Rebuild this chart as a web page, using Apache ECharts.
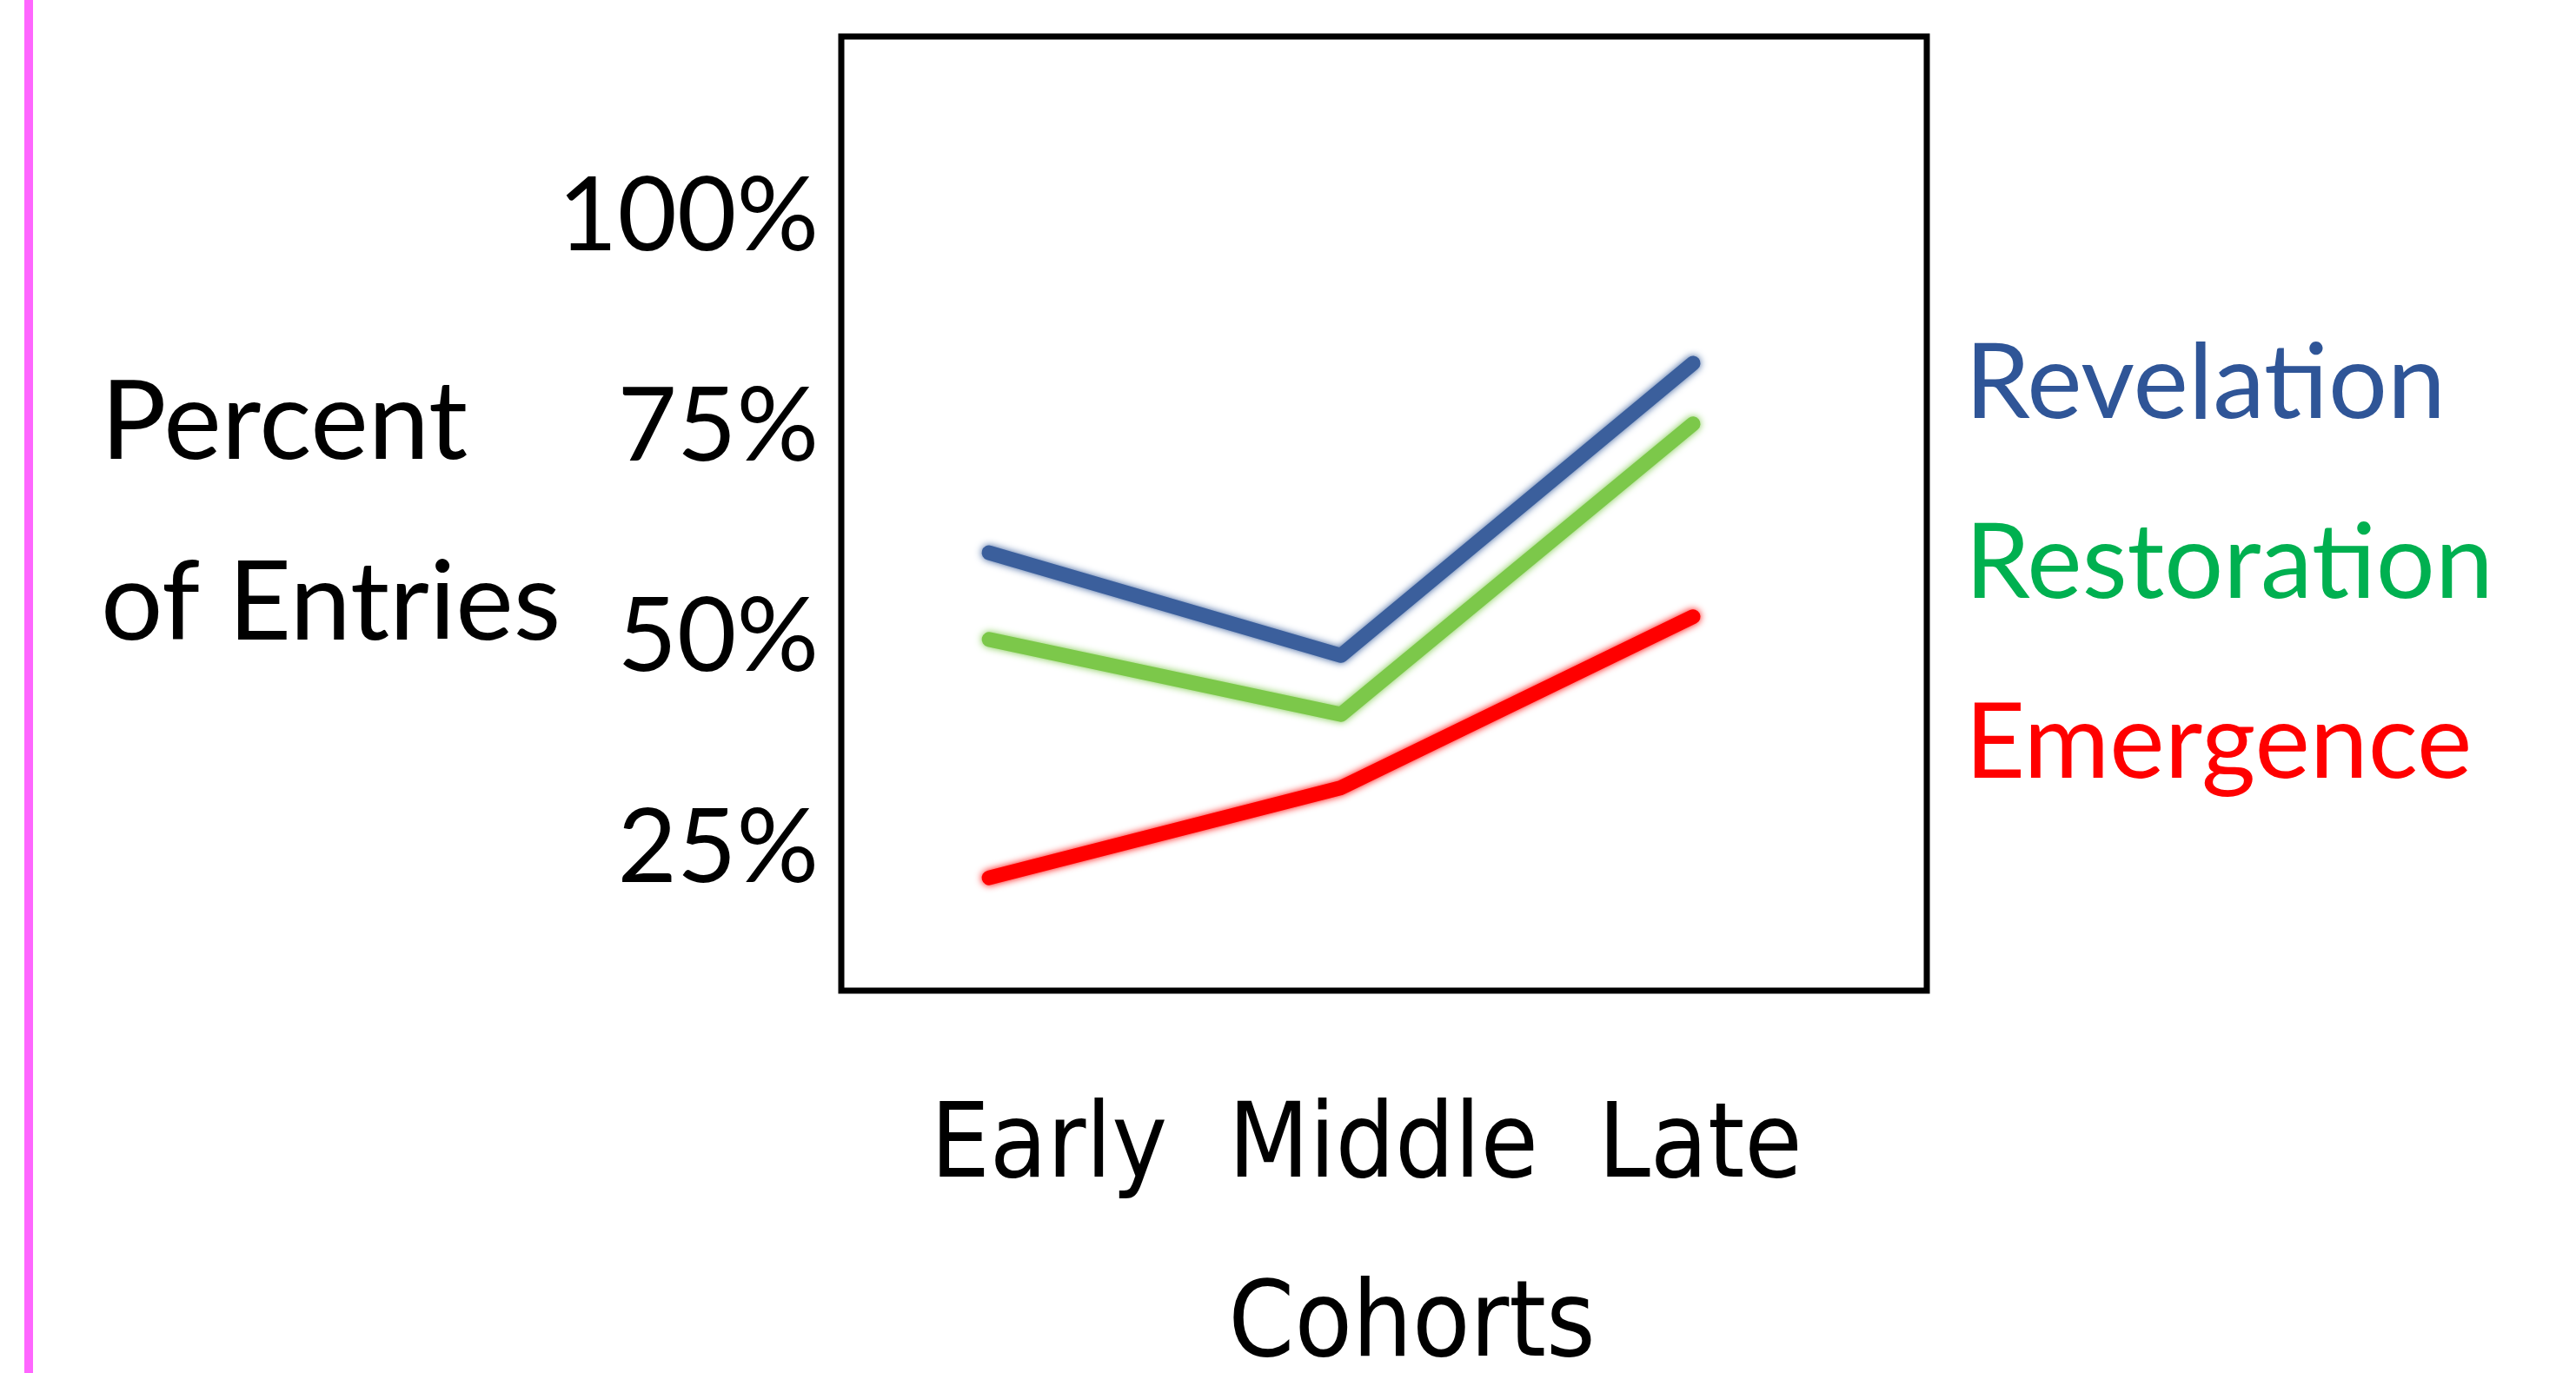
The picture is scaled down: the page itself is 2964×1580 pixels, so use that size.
<!DOCTYPE html>
<html><head><meta charset="utf-8">
<script src="https://cdn.jsdelivr.net/npm/echarts@6/dist/echarts.min.js"></script>
<style>html,body{margin:0;padding:0;background:#fff}#c{width:2964px;height:1580px}</style>
</head><body><div id="c"></div><script>
// ---- data ----
const categories = ['Early', 'Middle', 'Late'];
const seriesNames = ['Revelation', 'Restoration', 'Emergence'];
const revelation = [59.1, 46.9, 81.6];
const restoration = [48.8, 39.9, 74.4];
const emergence = [20.5, 31.2, 51.5];
const yTicks = [25, 50, 75, 100];
const xLabelPositions = [0.17, 1.12, 2.02];
const xAxisTitle = 'Cohorts';
const yAxisTitle = 'Percent\nof Entries';

// ---- styles ----
const FONT = "Lato, 'Open Sans', sans-serif";
const FONT_X = "'DejaVu Sans Condensed', 'DejaVu Sans', sans-serif";
const lineColors = ['#3B5F9C', '#7CC84A', '#FF0000'];
const textColors = ['#2F5597', '#00B050', '#FF0000'];
const values = [revelation, restoration, emergence];

const chart = echarts.init(document.getElementById('c'), null, {renderer: 'canvas'});
chart.setOption({
  backgroundColor: '#ffffff',
  animation: false,
  graphic: [{type: 'rect', shape: {x: 28, y: 0, width: 10, height: 1580}, style: {fill: '#FF66FF'}, silent: true}],
  grid: {left: 968, top: 42, width: 1249, height: 1098, show: true, borderColor: '#000', borderWidth: 7,
         backgroundColor: '#fff', containLabel: false, outerBoundsMode: 'none'},
  legend: {
    orient: 'vertical', left: 2251, top: 377, icon: 'none', itemWidth: 0, itemHeight: 120, itemGap: 87,
    selectedMode: false,
    textStyle: {fontSize: 120, fontFamily: FONT, lineHeight: 120},
    data: seriesNames.map((n, i) => ({name: n, textStyle: {color: textColors[i]}}))
  },
  xAxis: {
    type: 'value', min: -0.42, max: 2.664,
    axisLine: {show: false}, axisTick: {show: false}, splitLine: {show: false},
    axisLabel: {
      customValues: xLabelPositions, margin: 123, fontSize: 120, lineHeight: 120, fontFamily: FONT_X, color: '#000',
      formatter: (v) => {
        let best = 0;
        xLabelPositions.forEach((p, i) => { if (Math.abs(p - v) < Math.abs(xLabelPositions[best] - v)) best = i; });
        return categories[best];
      }
    },
    name: xAxisTitle, nameLocation: 'middle', nameGap: 328, nameMoveOverlap: false,
    nameTextStyle: {fontSize: 121, lineHeight: 121, fontFamily: FONT_X, color: '#000', padding: [0, 0, 0, 64]}
  },
  yAxis: {
    type: 'value', min: 7.1, max: 120.4,
    axisLine: {show: false}, axisTick: {show: false}, splitLine: {show: false},
    axisLabel: {customValues: yTicks, formatter: '{value}%', margin: 26, fontSize: 118, fontFamily: FONT, color: '#000',
                verticalAlign: 'top', lineHeight: 20},
    name: yAxisTitle, nameLocation: 'middle', nameRotate: 0, nameGap: 852, nameMoveOverlap: false,
    nameTextStyle: {fontSize: 126, lineHeight: 208, fontFamily: FONT, color: '#000', align: 'left',
                    verticalAlign: 'middle', padding: [0, 0, 48, 0]}
  },
  series: seriesNames.map((n, i) => ({
    name: n, type: 'line', showSymbol: false, symbol: 'none',
    data: values[i].map((v, k) => [k, v]),
    lineStyle: {color: lineColors[i], width: 17, cap: 'round', join: 'round',
                shadowColor: lineColors[i], shadowBlur: 8},
    itemStyle: {color: lineColors[i]}
  }))
});
</script></body></html>
